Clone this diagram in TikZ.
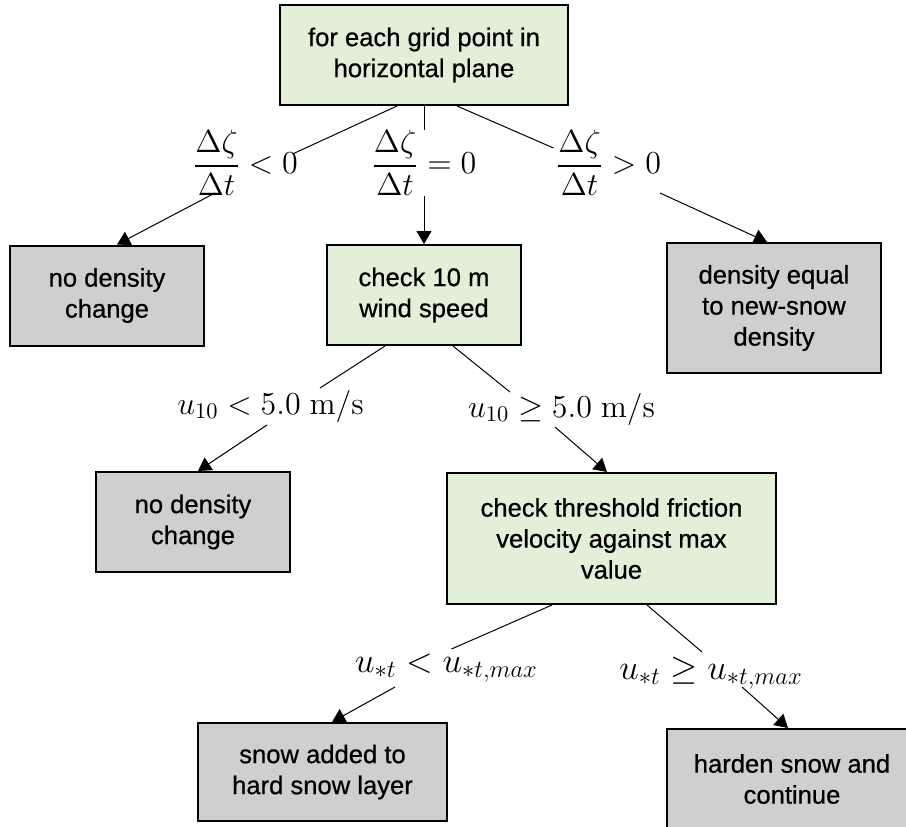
\RequirePackage{fix-cm}
\documentclass[tikz,border=0pt]{standalone}
\usepackage{amsmath}
\usepackage[no-math]{fontspec}
\setmainfont{Liberation Sans}
\newfontfamily\boxfont{Liberation Sans}[FakeBold=0.6]
\usepackage{tikz}
\usetikzlibrary{arrows.meta}
\definecolor{boxgreen}{HTML}{E2EFD9}
\definecolor{boxgray}{HTML}{D0CECE}
\tikzstyle{box}=[draw,line width=1pt,align=center,inner sep=2pt,font=\boxfont\fontsize{12.8}{15.5}\selectfont]
\tikzstyle{check box}=[box,fill=boxgreen]
\tikzstyle{result box}=[box,fill=boxgray]
\tikzstyle{condition}=[inner sep=0pt,font=\fontsize{16}{19}\selectfont]
\tikzstyle{edge}=[draw,line width=0.5pt,-]
\tikzstyle{arrow edge}=[edge,-{Triangle[length=6.5pt,width=7.5pt]}]

\begin{document}
\begin{tikzpicture}[x=0.5pt,y=-0.5pt]
    \useasboundingbox (0,0) rectangle (906,826);
    % First we draw the boxes
    \node[check box, minimum width=144pt, minimum height=50pt] (grid) at (424,55) {for each grid point in\\horizontal plane};
    \node[result box, minimum width=97pt, minimum height=50pt] (nochangeA) at (107,295.5) {no density\\change};
    \node[check box, minimum width=97pt, minimum height=50pt] (wind) at (424,295) {check 10 m\\wind speed};
    \node[result box, minimum width=107pt, minimum height=65pt] (newsnow) at (774,308) {density equal\\to new-snow\\density};
    \node[result box, minimum width=97pt, minimum height=50pt] (nochangeB) at (193,522) {no density\\change};
    \node[check box, minimum width=164.5pt, minimum height=65.5pt] (friction) at (611.5,538.5) {check threshold friction\\velocity against max\\value};
    \node[result box, minimum width=124.5pt, minimum height=49pt] (hardlayer) at (322.5,772) {snow added to\\hard snow layer};
    \node[result box, minimum width=125pt, minimum height=50pt] (harden) at (792,779) {harden snow and\\continue};

    % The conditions on the branches
    \node[condition] (dzneg) at (245.5,163) {$\dfrac{\Delta\zeta}{\Delta t} < 0$};
    \node[condition] (dzzero) at (424,163) {$\dfrac{\Delta\zeta}{\Delta t} = 0$};
    \node[condition] (dzpos) at (608.5,163) {$\dfrac{\Delta\zeta}{\Delta t} > 0$};
    \node[condition] (ucalm) at (270.5,406) {$u_{10} < 5.0~\mathrm{m/s}$};
    \node[condition] (uwind) at (561.5,409) {$u_{10} \geq 5.0~\mathrm{m/s}$};
    \node[condition, font=\fontsize{17.5}{21}\selectfont] (ubelow) at (446.5,668) {$u_{*t} < u_{*t,max}$};
    \node[condition, font=\fontsize{17.5}{21}\selectfont] (uabove) at (711,673) {$u_{*t} \geq u_{*t,max}$};

    % Connect boxes to conditions
    \path[edge] ([shift={(-27,0)}]grid.south) -- ([shift={(47,-9)}]dzneg.center);
    \path[edge] (grid.south) -- (dzzero.north);
    \path[edge] ([shift={(33,0)}]grid.south) -- ([shift={(-55,-15)}]dzpos.center);
    \path[edge] ([shift={(-39,0)}]wind.south) -- ([shift={(49.5,-18)}]ucalm.center);
    \path[edge] ([shift={(29,0)}]wind.south) -- ([shift={(-51.5,-17)}]uwind.center);
    \path[edge] ([shift={(-59.5,0)}]friction.south) -- ([shift={(5,-19)}]ubelow.center);
    \path[edge] ([shift={(35.5,0)}]friction.south) -- ([shift={(-9,-21)}]uabove.center);

    % Connect conditions to boxes
    \path[arrow edge] ([shift={(-30.5,30)}]dzneg.center) -- ([shift={(10,0)}]nochangeA.north);
    \path[arrow edge] (dzzero.south) -- (wind.north);
    \path[arrow edge] ([shift={(51.5,30)}]dzpos.center) -- ([shift={(-7,0)}]newsnow.north);
    \path[arrow edge] ([shift={(-3.5,19)}]ucalm.center) -- ([shift={(5,0)}]nochangeB.north);
    \path[arrow edge] ([shift={(-6.5,18)}]uwind.center) -- ([shift={(-4.5,0)}]friction.north);
    \path[arrow edge] ([shift={(-51.5,19)}]ubelow.center) -- ([shift={(9.5,0)}]hardlayer.north);
    \path[arrow edge] ([shift={(31,14)}]uabove.center) -- ([shift={(-4,0)}]harden.north);
\end{tikzpicture}
\end{document}
